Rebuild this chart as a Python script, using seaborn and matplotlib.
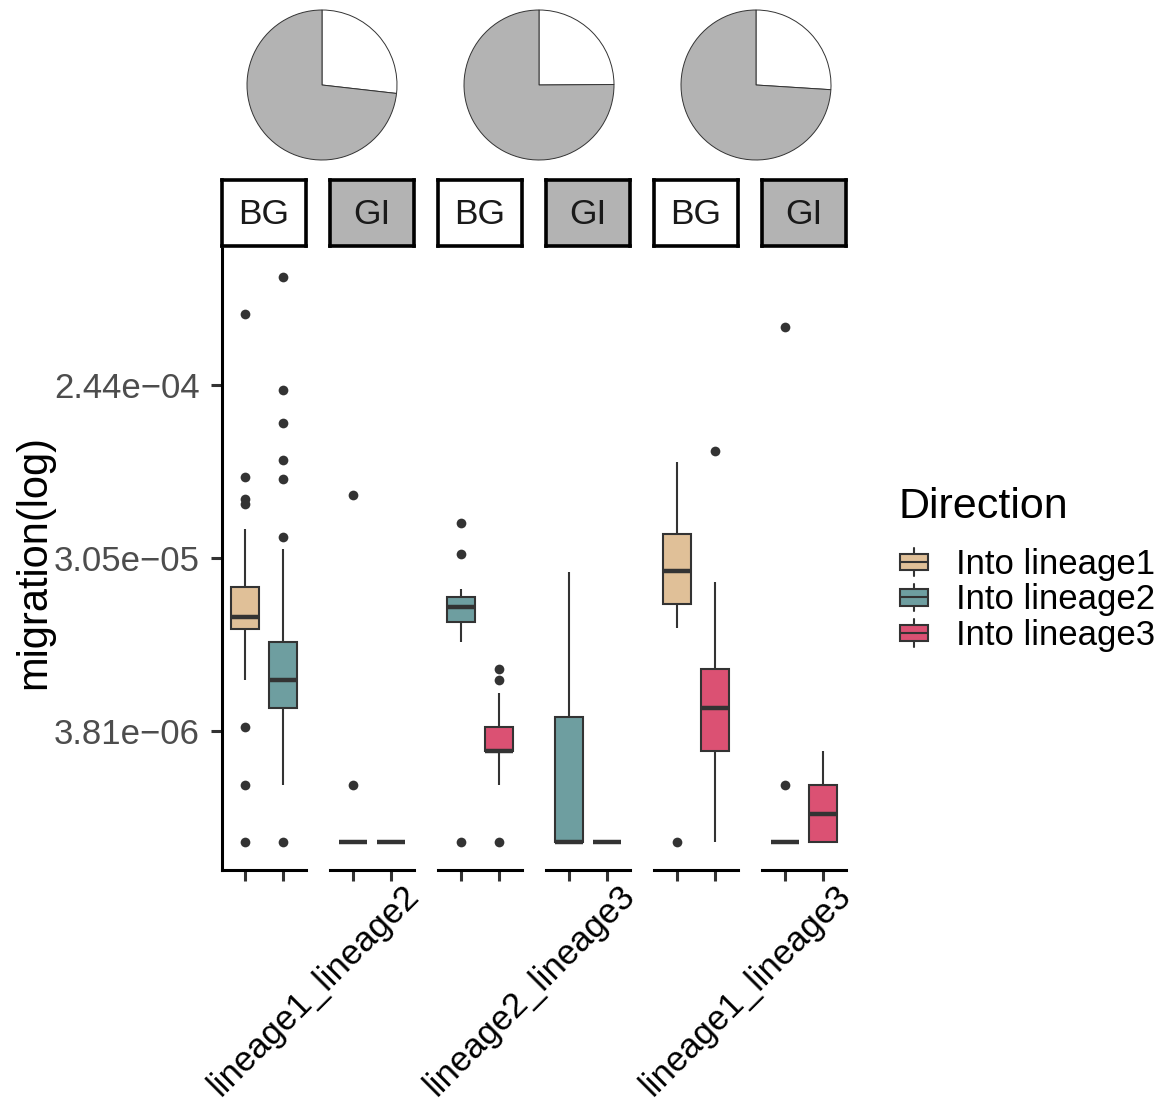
import numpy as np
import pandas as pd
import matplotlib
matplotlib.use("Agg")
import matplotlib.pyplot as plt
import matplotlib.transforms as mtransforms
import seaborn as sns
from matplotlib.legend_handler import HandlerBase
from matplotlib.patches import Patch, Rectangle
from matplotlib.lines import Line2D
from matplotlib.ticker import NullLocator

# ---------------------------------------------------------------- data
pairs = ["lineage1_lineage2", "lineage2_lineage3", "lineage1_lineage3"]
habitats = ["BG", "GI"]
directions = ["Into lineage1", "Into lineage2", "Into lineage3"]
direction_colors = ["#E0C098", "#6E9EA0", "#DB5173"]
pair_directions = [
    ["Into lineage1", "Into lineage2"],
    ["Into lineage2", "Into lineage3"],
    ["Into lineage1", "Into lineage3"],
]

# share of the BG (white) slice in each pair's pie
pie_bg_share = [0.268, 0.249, 0.260]

# box summaries per panel: [lower whisker, Q1, median, Q3, upper whisker]
l1l2_bg_stats = [[7.0e-6, 1.30e-5, 1.50e-5, 2.15e-5, 4.32e-5],
                 [2.0e-6, 5.0e-6, 7.0e-6, 1.11e-5, 3.40e-5]]
l1l2_bg_outliers = [[1e-6, 2e-6, 4e-6, 5.83e-5, 6.19e-5, 8.07e-5, 5.73e-4],
                    [1e-6, 3.93e-5, 7.88e-5, 9.9e-5, 1.55e-4, 2.30e-4, 8.93e-4]]
l1l2_gi_stats = [[1e-6, 1e-6, 1e-6, 1e-6, 1e-6],
                 [1e-6, 1e-6, 1e-6, 1e-6, 1e-6]]
l1l2_gi_outliers = [[2e-6, 6.5e-5], []]

l2l3_bg_stats = [[1.11e-5, 1.41e-5, 1.69e-5, 1.91e-5, 2.10e-5],
                 [2.0e-6, 3.0e-6, 3.0e-6, 4.0e-6, 6.0e-6]]
l2l3_bg_outliers = [[1e-6, 3.20e-5, 4.65e-5], [1e-6, 7e-6, 8e-6]]
l2l3_gi_stats = [[1e-6, 1e-6, 1e-6, 4.5e-6, 2.58e-5],
                 [1e-6, 1e-6, 1e-6, 1e-6, 1e-6]]
l2l3_gi_outliers = [[], []]

l1l3_bg_stats = [[1.32e-5, 1.75e-5, 2.61e-5, 4.06e-5, 9.66e-5],
                 [1.0e-6, 3.0e-6, 5.0e-6, 8.0e-6, 2.29e-5]]
l1l3_bg_outliers = [[1e-6], [1.10e-4]]
l1l3_gi_stats = [[1e-6, 1e-6, 1e-6, 1e-6, 1e-6],
                 [1e-6, 1e-6, 1.41e-6, 2.0e-6, 3.0e-6]]
l1l3_gi_outliers = [[2e-6, 4.9e-4], []]

ytick_values = [3.81e-6, 3.05e-5, 2.44e-4]
ytick_labels = ["3.81e\u221206", "3.05e\u221205", "2.44e\u221204"]

panels = [
    (0, "BG", l1l2_bg_stats, l1l2_bg_outliers),
    (0, "GI", l1l2_gi_stats, l1l2_gi_outliers),
    (1, "BG", l2l3_bg_stats, l2l3_bg_outliers),
    (1, "GI", l2l3_gi_stats, l2l3_gi_outliers),
    (2, "BG", l1l3_bg_stats, l1l3_bg_outliers),
    (2, "GI", l1l3_gi_stats, l1l3_gi_outliers),
]


def summary_sample(stats, outliers, weight=40):
    """Observations whose box statistics equal the given five-number summary."""
    lo, q1, med, q3, hi = stats
    return [lo, hi] + [q1] * weight + [med] * weight + [q3] * weight + list(outliers)


# ---------------------------------------------------------------- style
sns.set_theme(style="white")
plt.rcParams["font.family"] = ["Liberation Sans", "DejaVu Sans"]
plt.rcParams["text.color"] = "black"

LINE = "#333333"
STRIP_FILL = {"BG": "white", "GI": "#B3B3B3"}
palette = dict(zip(directions, direction_colors))

W, H = 1165, 1107
fig = plt.figure(figsize=(W / 100, H / 100), dpi=100)
fig.patch.set_facecolor("white")


def fig_rect(x0, y0, x1, y1):
    return [x0 / W, 1 - y1 / H, (x1 - x0) / W, (y1 - y0) / H]


panel_left = [222, 330, 438, 546, 654, 762]
panel_w = 84
panel_top, panel_bottom = 249, 870
strip_top, strip_bottom = 180, 246
ylim = (10 ** -6.1446, 10 ** -2.9028)

for i, (pair_idx, hab, stats, outs) in enumerate(panels):
    x0 = panel_left[i]
    ax = fig.add_axes(fig_rect(x0, panel_top, x0 + panel_w, panel_bottom))
    ax.set_yscale("log")
    dirs = pair_directions[pair_idx]
    rows = []
    for d, st, ou in zip(dirs, stats, outs):
        rows += [(d, v) for v in summary_sample(st, ou)]
    df = pd.DataFrame(rows, columns=["Direction", "migration"])

    sns.boxplot(
        data=df, x="Direction", y="migration", hue="Direction",
        order=dirs, hue_order=dirs, palette=palette, dodge=False,
        width=0.75, saturation=1, linecolor=LINE, linewidth=1.5,
        fliersize=7, whis=1.5, legend=False, ax=ax,
        medianprops={"linewidth": 3.2},
        flierprops={"marker": "o", "markerfacecolor": LINE,
                    "markeredgecolor": LINE, "markeredgewidth": 0},
        capprops={"visible": False},
    )

    ax.set_xlim(-0.6, 1.6)
    ax.set_ylim(*ylim)
    ax.set_xlabel("")
    ax.set_ylabel("")
    ax.set_xticks([0, 1])
    ax.set_xticklabels([])
    ax.set_facecolor("white")
    ax.grid(False)

    for side in ["top", "right"]:
        ax.spines[side].set_visible(False)
    ax.spines["bottom"].set_linewidth(2.2)
    ax.spines["bottom"].set_color("black")
    ax.spines["bottom"].set_capstyle("projecting")

    ax.tick_params(axis="both", which="major", direction="out", length=8,
                   width=2.2, color=LINE, labelsize=25, labelcolor="#4D4D4D",
                   pad=8, bottom=True)
    ax.yaxis.set_minor_locator(NullLocator())

    if i == 0:
        ax.spines["left"].set_linewidth(2.2)
        ax.spines["left"].set_color("black")
        ax.spines["left"].set_capstyle("projecting")
        ax.set_yticks(ytick_values, labels=ytick_labels)
        ax.yaxis.set_minor_locator(NullLocator())
        ax.tick_params(axis="y", left=True)
    else:
        ax.spines["left"].set_visible(False)
        ax.yaxis.set_major_locator(NullLocator())
        ax.tick_params(axis="y", left=False, labelleft=False)

    if hab == "GI":
        offset = mtransforms.ScaledTranslation(11 / 100, -9 / 100, fig.dpi_scale_trans)
        trans = mtransforms.blended_transform_factory(ax.transData, ax.transAxes) + offset
        ax.text(1, 0, pairs[pair_idx], transform=trans, rotation=45,
                rotation_mode="anchor", ha="right", va="top", fontsize=25,
                color="black", clip_on=False)

    # facet strip
    sax = fig.add_axes(fig_rect(x0, strip_top, x0 + panel_w, strip_bottom))
    sax.set_facecolor(STRIP_FILL[hab])
    sax.set_xticks([])
    sax.set_yticks([])
    for sp in sax.spines.values():
        sp.set_visible(True)
        sp.set_linewidth(2.6)
        sp.set_color("black")
    sax.text(0.5, 0.47, hab, ha="center", va="center", fontsize=25.5,
             color="#1A1A1A", transform=sax.transAxes)

# pies above each pair of panels
pie_centers = [322, 539, 756]
pie_cy, pie_r, pie_half = 85, 75, 80
for cx, share in zip(pie_centers, pie_bg_share):
    pax = fig.add_axes(fig_rect(cx - pie_half, pie_cy - pie_half,
                                cx + pie_half, pie_cy + pie_half))
    pax.pie([share, 1 - share], colors=[STRIP_FILL["BG"], STRIP_FILL["GI"]],
            startangle=90, counterclock=False, radius=1,
            wedgeprops={"edgecolor": LINE, "linewidth": 0.7})
    lim = pie_half / pie_r
    pax.set_xlim(-lim, lim)
    pax.set_ylim(-lim, lim)
    pax.set_aspect("equal")
    pax.axis("off")

# axis title
fig.text(34 / W, 1 - 562 / H, "migration(log)", rotation=90, ha="center",
         va="center", fontsize=30, color="black")


# legend with box-shaped keys
class BoxKey(HandlerBase):
    def create_artists(self, legend, orig_handle, xdescent, ydescent,
                       width, height, fontsize, trans):
        x0, y0 = -xdescent, -ydescent
        cx = x0 + width / 2
        bh = height * 0.6
        whisk = Line2D([cx, cx], [y0, y0 + height], color=LINE, lw=1.5,
                       transform=trans)
        rect = Rectangle((x0, y0 + (height - bh) / 2), width, bh,
                         facecolor=orig_handle.get_facecolor(), edgecolor=LINE,
                         lw=1.5, transform=trans)
        med = Line2D([x0, x0 + width], [y0 + height / 2] * 2, color=LINE,
                     lw=1.5, transform=trans)
        return [whisk, rect, med]


handles = [Patch(facecolor=c) for c in direction_colors]
fig.legend(handles=handles, labels=directions, handler_map={Patch: BoxKey()},
           loc="upper left", bbox_to_anchor=(900 / W, 1 - 548 / H),
           frameon=False, fontsize=25, handlelength=0.8, handleheight=0.85,
           handletextpad=0.8, labelspacing=0.07, borderpad=0, borderaxespad=0,
           labelcolor="black")
fig.text(898 / W, 1 - 507 / H, "Direction", ha="left", va="center",
         fontsize=31, color="black")

fig.savefig("out.png", dpi=100, facecolor="white")
